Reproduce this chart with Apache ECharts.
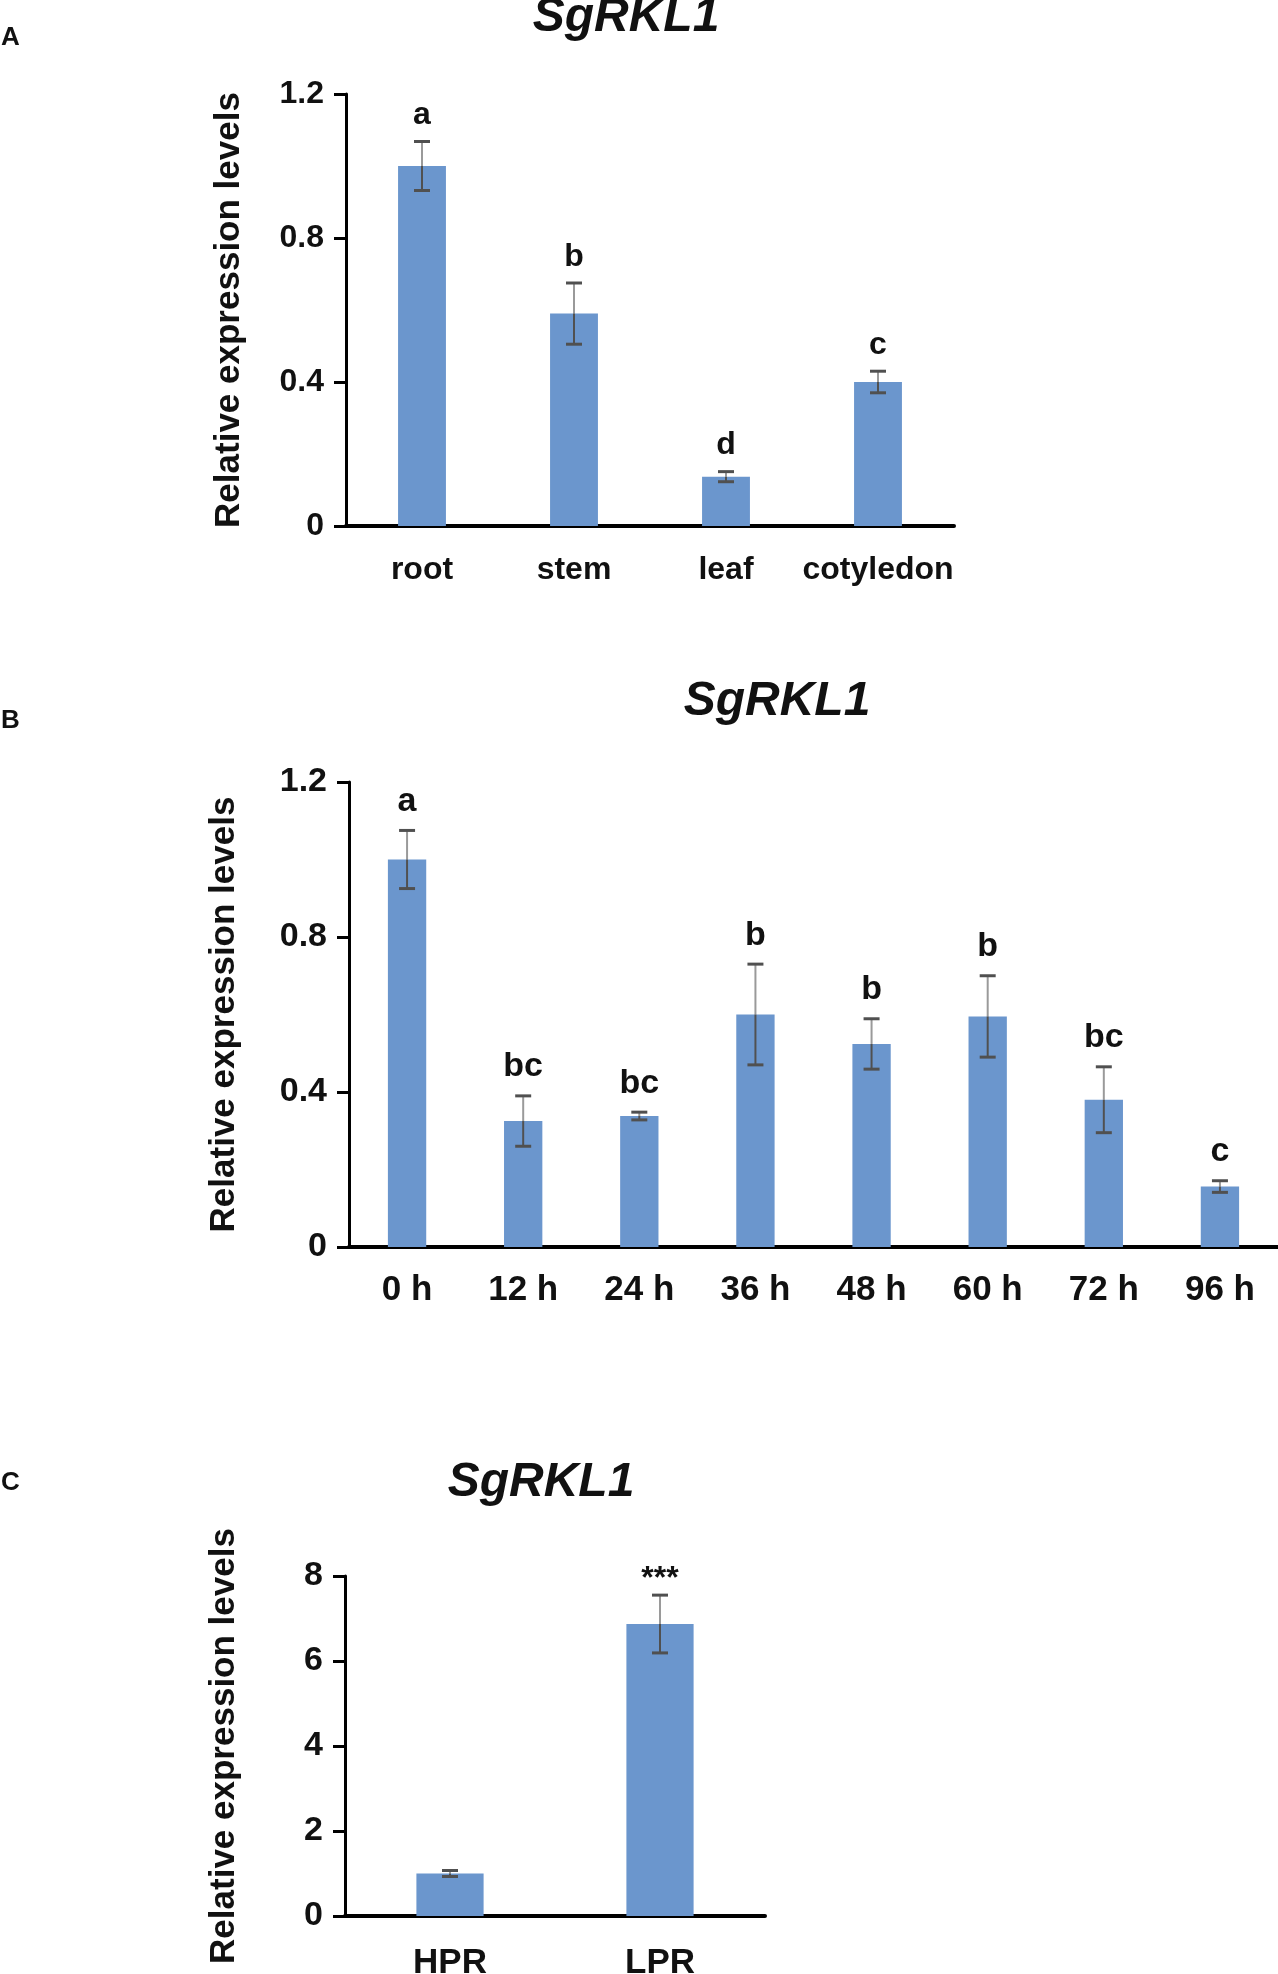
<!DOCTYPE html>
<html>
<head>
<meta charset="utf-8">
<script src="https://cdn.jsdelivr.net/npm/echarts@6/dist/echarts.min.js"></script>
<style>
  html, body { margin: 0; padding: 0; background: #fff; }
  #main { width: 1278px; height: 1974px; }
</style>
</head>
<body>
<div id="main"></div>
<script>
// panel A: tissues
const tissueCats = ['root', 'stem', 'leaf', 'cotyledon'];
const tissueMeans = [1.0, 0.59, 0.137, 0.40];
const tissueErr = [0.068, 0.085, 0.014, 0.03];
const tissueLetters = ['a', 'b', 'd', 'c'];

// panel B: time course
const timeCats = ['0 h', '12 h', '24 h', '36 h', '48 h', '60 h', '72 h', '96 h'];
const timeMeans = [1.0, 0.325, 0.338, 0.60, 0.524, 0.595, 0.38, 0.156];
const timeErr = [0.075, 0.065, 0.01, 0.13, 0.065, 0.105, 0.085, 0.015];
const timeLetters = ['a', 'bc', 'bc', 'b', 'b', 'b', 'bc', 'c'];

// panel C: HPR vs LPR
const prCats = ['HPR', 'LPR'];
const prMeans = [1.0, 6.87];
const prErr = [0.07, 0.68];
const prMarks = ['', '***'];

const FONT = 'Liberation Sans, Arial, sans-serif';
const BAR_COLOR = '#6b96cd';

// error bar + letter drawn on top of each bar
function errorBars(letters, fontSize, gap) {
  return function (params, api) {
    const i = api.value(0);
    const m = api.value(1);
    const e = api.value(2);
    const top = api.coord([i, m + e]);
    const mid = api.coord([i, m]);
    const bot = api.coord([i, m - e]);
    const cap = 8;
    const children = [
      { type: 'line', shape: { x1: top[0], y1: top[1], x2: mid[0], y2: mid[1] },
        style: { stroke: '#9a9a9a', lineWidth: 2 } },
      { type: 'line', shape: { x1: mid[0], y1: mid[1], x2: bot[0], y2: bot[1] },
        style: { stroke: '#505050', lineWidth: 2 } },
      { type: 'line', shape: { x1: top[0] - cap, y1: top[1], x2: top[0] + cap, y2: top[1] },
        style: { stroke: '#505050', lineWidth: 3 } },
      { type: 'line', shape: { x1: bot[0] - cap, y1: bot[1], x2: bot[0] + cap, y2: bot[1] },
        style: { stroke: '#505050', lineWidth: 3 } }
    ];
    const txt = letters[params.dataIndex];
    if (txt) {
      children.push({
        type: 'text',
        style: {
          text: txt, x: top[0], y: top[1] - gap,
          align: 'center', verticalAlign: 'middle',
          font: 'bold ' + fontSize + 'px ' + FONT, fill: '#111'
        }
      });
    }
    return { type: 'group', children: children };
  };
}

function yAxisCfg(idx, max, interval, gap, size) {
  return {
    type: 'value', gridIndex: idx, min: 0, max: max, interval: interval,
    name: 'Relative expression levels', nameLocation: 'middle', nameGap: gap,
    nameTextStyle: { fontFamily: FONT, fontWeight: 'bold', fontSize: 35, color: '#111' },
    axisLine: { show: true, lineStyle: { color: '#000', width: 3 } },
    axisTick: { show: true, length: 12, lineStyle: { color: '#000', width: 3 } },
    axisLabel: { fontFamily: FONT, fontWeight: 'bold', fontSize: size, color: '#111', margin: 22 },
    splitLine: { show: false }
  };
}

function xAxisCfg(idx, cats, size, margin) {
  return {
    type: 'category', gridIndex: idx, data: cats,
    axisLine: { show: true, lineStyle: { color: '#000', width: 4 } },
    axisTick: { show: false },
    axisLabel: { interval: 0, fontFamily: FONT, fontWeight: 'bold', fontSize: size, color: '#111', margin: margin }
  };
}

function toData(means, errs) {
  return means.map((m, i) => [i, m, errs[i]]);
}

const chart = echarts.init(document.getElementById('main'), null, { renderer: 'canvas' });

const titleStyle = { font: 'italic bold 48px ' + FONT, fill: '#111', align: 'center', verticalAlign: 'middle' };
const panelStyle = { font: 'bold 26px ' + FONT, fill: '#111', align: 'left', verticalAlign: 'middle' };

chart.setOption({
  animation: false,
  grid: [
    { left: 346, top: 94, width: 608, height: 432, outerBoundsMode: 'none' },
    { left: 349, top: 782, width: 929, height: 465, outerBoundsMode: 'none' },
    { left: 345, top: 1576, width: 420, height: 340, outerBoundsMode: 'none' }
  ],
  xAxis: [
    xAxisCfg(0, tissueCats, 32, 28),
    xAxisCfg(1, timeCats, 35, 26),
    xAxisCfg(2, prCats, 35, 30)
  ],
  yAxis: [
    yAxisCfg(0, 1.2, 0.4, 99, 32),
    yAxisCfg(1, 1.2, 0.4, 107, 34),
    yAxisCfg(2, 8, 2, 103, 34)
  ],
  graphic: [
    { type: 'text', style: Object.assign({ text: 'SgRKL1', x: 626, y: 18 }, titleStyle) },
    { type: 'text', style: Object.assign({ text: 'SgRKL1', x: 777, y: 702 }, titleStyle) },
    { type: 'text', style: Object.assign({ text: 'SgRKL1', x: 541, y: 1483 }, titleStyle) },
    { type: 'text', style: Object.assign({ text: 'A', x: 1, y: 38 }, panelStyle) },
    { type: 'text', style: Object.assign({ text: 'B', x: 1, y: 721 }, panelStyle) },
    { type: 'text', style: Object.assign({ text: 'C', x: 1, y: 1483 }, panelStyle) }
  ],
  series: [
    { type: 'bar', xAxisIndex: 0, yAxisIndex: 0, data: tissueMeans, barWidth: '31.5%',
      itemStyle: { color: BAR_COLOR } },
    { type: 'custom', xAxisIndex: 0, yAxisIndex: 0, z: 5,
      renderItem: errorBars(tissueLetters, 32, 26), data: toData(tissueMeans, tissueErr) },
    { type: 'bar', xAxisIndex: 1, yAxisIndex: 1, data: timeMeans, barWidth: '33%',
      itemStyle: { color: BAR_COLOR } },
    { type: 'custom', xAxisIndex: 1, yAxisIndex: 1, z: 5,
      renderItem: errorBars(timeLetters, 34, 29), data: toData(timeMeans, timeErr) },
    { type: 'bar', xAxisIndex: 2, yAxisIndex: 2, data: prMeans, barWidth: '32%',
      itemStyle: { color: BAR_COLOR } },
    { type: 'custom', xAxisIndex: 2, yAxisIndex: 2, z: 5,
      renderItem: errorBars(prMarks, 32, 16), data: toData(prMeans, prErr) }
  ]
});
</script>
</body>
</html>
